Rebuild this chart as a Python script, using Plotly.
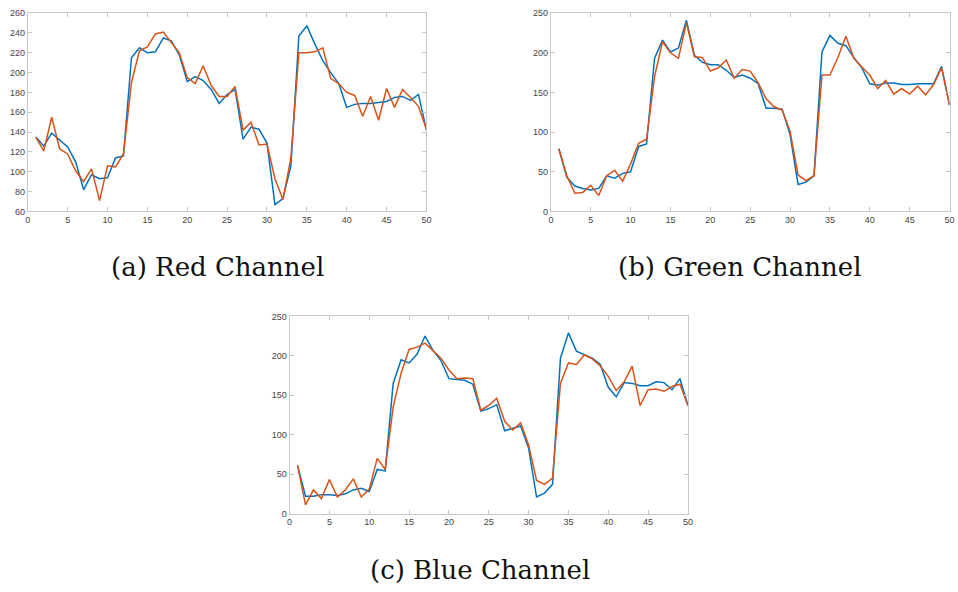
import plotly.graph_objects as go

x = list(range(1, 51))

red_a = [135, 126, 139, 132, 125, 110, 82, 97, 93, 94, 114, 116, 215, 225, 220, 221, 235, 232, 218, 191,
         196, 192, 183, 169, 178, 183, 133, 145, 143, 129, 67, 73, 106, 237, 247, 229, 212, 200, 189, 165,
         168, 169, 169, 170, 171, 175, 176, 172, 178, 142]
red_b = [135, 121, 155, 123, 118, 101, 90, 103, 71, 106, 105, 118, 190, 222, 226, 239, 241, 231, 220, 195,
         189, 207, 187, 176, 176, 186, 142, 150, 127, 128, 93, 72, 114, 220, 220, 221, 225, 194, 189, 180,
         177, 156, 176, 152, 184, 165, 183, 175, 166, 143]

green_a = [79, 43, 32, 29, 27, 29, 45, 42, 48, 50, 82, 85, 193, 216, 201, 206, 241, 197, 188, 185,
           185, 178, 169, 172, 168, 161, 130, 130, 129, 97, 34, 37, 45, 201, 222, 212, 209, 194, 181, 161,
           159, 162, 162, 160, 160, 161, 161, 161, 183, 134]
green_b = [79, 45, 23, 24, 33, 20, 45, 52, 38, 60, 86, 91, 170, 214, 200, 193, 238, 195, 194, 177,
           181, 191, 168, 179, 177, 162, 142, 132, 128, 101, 46, 39, 45, 172, 172, 194, 221, 193, 182, 172,
           155, 165, 148, 155, 148, 158, 147, 160, 181, 134]

blue_a = [61, 22, 22, 24, 24, 23, 25, 30, 32, 28, 56, 54, 165, 195, 191, 202, 225, 207, 194, 171,
          170, 169, 164, 130, 133, 138, 105, 108, 111, 83, 21, 26, 37, 197, 229, 206, 202, 197, 189, 160,
          148, 166, 165, 162, 162, 167, 166, 157, 171, 137]
blue_b = [61, 11, 30, 19, 43, 21, 30, 44, 21, 31, 70, 56, 135, 178, 208, 211, 216, 206, 197, 182,
          171, 172, 171, 131, 137, 146, 117, 106, 115, 87, 42, 37, 45, 165, 191, 189, 201, 196, 187, 174,
          156, 167, 187, 137, 157, 158, 155, 161, 164, 137]

captions = ["(a) Red Channel", "(b) Green Channel", "(c) Blue Channel"]
x_ticks = [0, 5, 10, 15, 20, 25, 30, 35, 40, 45, 50]
y_ticks_a = [60, 80, 100, 120, 140, 160, 180, 200, 220, 240, 260]
y_ticks_bc = [0, 50, 100, 150, 200, 250]

C1 = "#0072BD"
C2 = "#D95319"
W, H = 958, 592

def px_x(p):
    return p / W

def px_y(p):
    return 1 - p / H

panels = [
    (red_a, red_b, [25, 427], [8.3, 210], [60, 260], y_ticks_a),
    (green_a, green_b, [552.5, 954.5], [8.3, 210], [0, 250], y_ticks_bc),
    (blue_a, blue_b, [289, 690.7], [316.7, 517.3], [0, 250], y_ticks_bc),
]

fig = go.Figure()
layout = {}
for i, (s1, s2, xd, yd, yr, yt) in enumerate(panels):
    n = "" if i == 0 else str(i + 1)
    fig.add_trace(go.Scatter(x=x, y=s1, mode="lines", line=dict(color=C1, width=1.5),
                             xaxis="x" + n, yaxis="y" + n, showlegend=False))
    fig.add_trace(go.Scatter(x=x, y=s2, mode="lines", line=dict(color=C2, width=1.5),
                             xaxis="x" + n, yaxis="y" + n, showlegend=False))
    common = dict(showline=True, linecolor="#c8c8c8", linewidth=1, mirror="ticks",
                  ticks="inside", ticklen=4, tickcolor="#c8c8c8", showgrid=False, zeroline=False,
                  tickfont=dict(family="Liberation Sans, Arial", size=9, color="#444444"))
    layout["xaxis" + n] = dict(domain=[px_x(xd[0]), px_x(xd[1])], range=[0, 50], tickvals=x_ticks,
                               anchor="y" + n, **common)
    layout["yaxis" + n] = dict(domain=[px_y(yd[1]), px_y(yd[0])], range=yr, tickvals=yt,
                               anchor="x" + n, **common)

cap_pos = [(216, 267), (743, 267), (481, 575)]
annotations = []
for txt, (cx, cy) in zip(captions, cap_pos):
    annotations.append(dict(text=txt, x=px_x(cx), y=px_y(cy), xref="paper", yref="paper",
                            xanchor="center", yanchor="middle", showarrow=False,
                            font=dict(family="DejaVu Serif, serif", size=26, color="#111111")))

fig.update_layout(width=W, height=H, margin=dict(l=0, r=0, t=0, b=0),
                  paper_bgcolor="white", plot_bgcolor="white",
                  annotations=annotations, **layout)
fig.write_html("out.html")
